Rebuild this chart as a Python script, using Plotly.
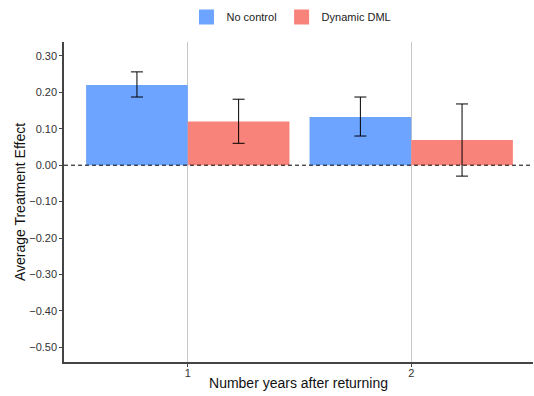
import plotly.graph_objects as go

categories = [1, 2]
no_control = [0.220, 0.132]
no_control_lo = [0.187, 0.080]
no_control_hi = [0.256, 0.187]
dml = [0.120, 0.069]
dml_lo = [0.060, -0.030]
dml_hi = [0.181, 0.168]
yticks = [0.3, 0.2, 0.1, 0.0, -0.1, -0.2, -0.3, -0.4, -0.5]
series_names = ["No control", "Dynamic DML"]
colors = ["#6CA4FF", "#F8837A"]

def tl(v):
    s = f"{abs(v):.2f}"
    return ("\u2212" + s) if v < 0 else s

fig = go.Figure()
for name, vals, lo, hi, col in [
    (series_names[0], no_control, no_control_lo, no_control_hi, colors[0]),
    (series_names[1], dml, dml_lo, dml_hi, colors[1]),
]:
    fig.add_trace(go.Bar(
        x=categories, y=vals, name=name, showlegend=False,
        marker=dict(color=col, line=dict(width=0)),
        error_y=dict(type="data", symmetric=False,
                     array=[h - v for h, v in zip(hi, vals)],
                     arrayminus=[v - l for l, v in zip(lo, vals)],
                     color="black", thickness=1, width=6),
    ))
for name, col in zip(series_names, colors):
    fig.add_trace(go.Scatter(x=[None], y=[None], mode="markers", name=name,
                             marker=dict(symbol="square", size=15, color=col)))

fig.add_hline(y=0, line=dict(color="black", width=1, dash="4px,3px"))

fig.update_layout(
    width=534, height=396,
    margin=dict(l=64, r=1, t=42, b=34, autoexpand=False),
    plot_bgcolor="white", paper_bgcolor="white",
    barmode="group", bargap=0.09, bargroupgap=0,
    font=dict(family="Liberation Sans, Arial, sans-serif", color="#222"),
    legend=dict(orientation="h", x=0.485, xanchor="center", yref="container", y=0.957, yanchor="middle",
                font=dict(size=11, color="#222"), itemwidth=30, traceorder="normal",
                tracegroupgap=0),
    xaxis=dict(range=[0.446, 2.545], tickvals=categories, ticktext=[str(c) for c in categories],
               showgrid=True, gridcolor="#C8C8C8", gridwidth=1,
               showline=True, linecolor="#444", linewidth=1.5, ticks="outside", ticklen=3,
               tickcolor="#444", tickfont=dict(size=11, color="#333"), ticklabelstandoff=-3,
               title=dict(text="Number years after returning", font=dict(size=14, color="#111"), standoff=0),
               zeroline=False),
    yaxis=dict(range=[-0.54, 0.338], tickvals=yticks, ticktext=[tl(v) for v in yticks],
               showgrid=False, showline=True, linecolor="#444", linewidth=1.5,
               ticks="outside", ticklen=3, tickcolor="#444", tickfont=dict(size=11, color="#333"),
               title=dict(text="Average Treatment Effect", font=dict(size=14, color="#111"), standoff=0),
               zeroline=False),
)

fig.write_html("out.html")
